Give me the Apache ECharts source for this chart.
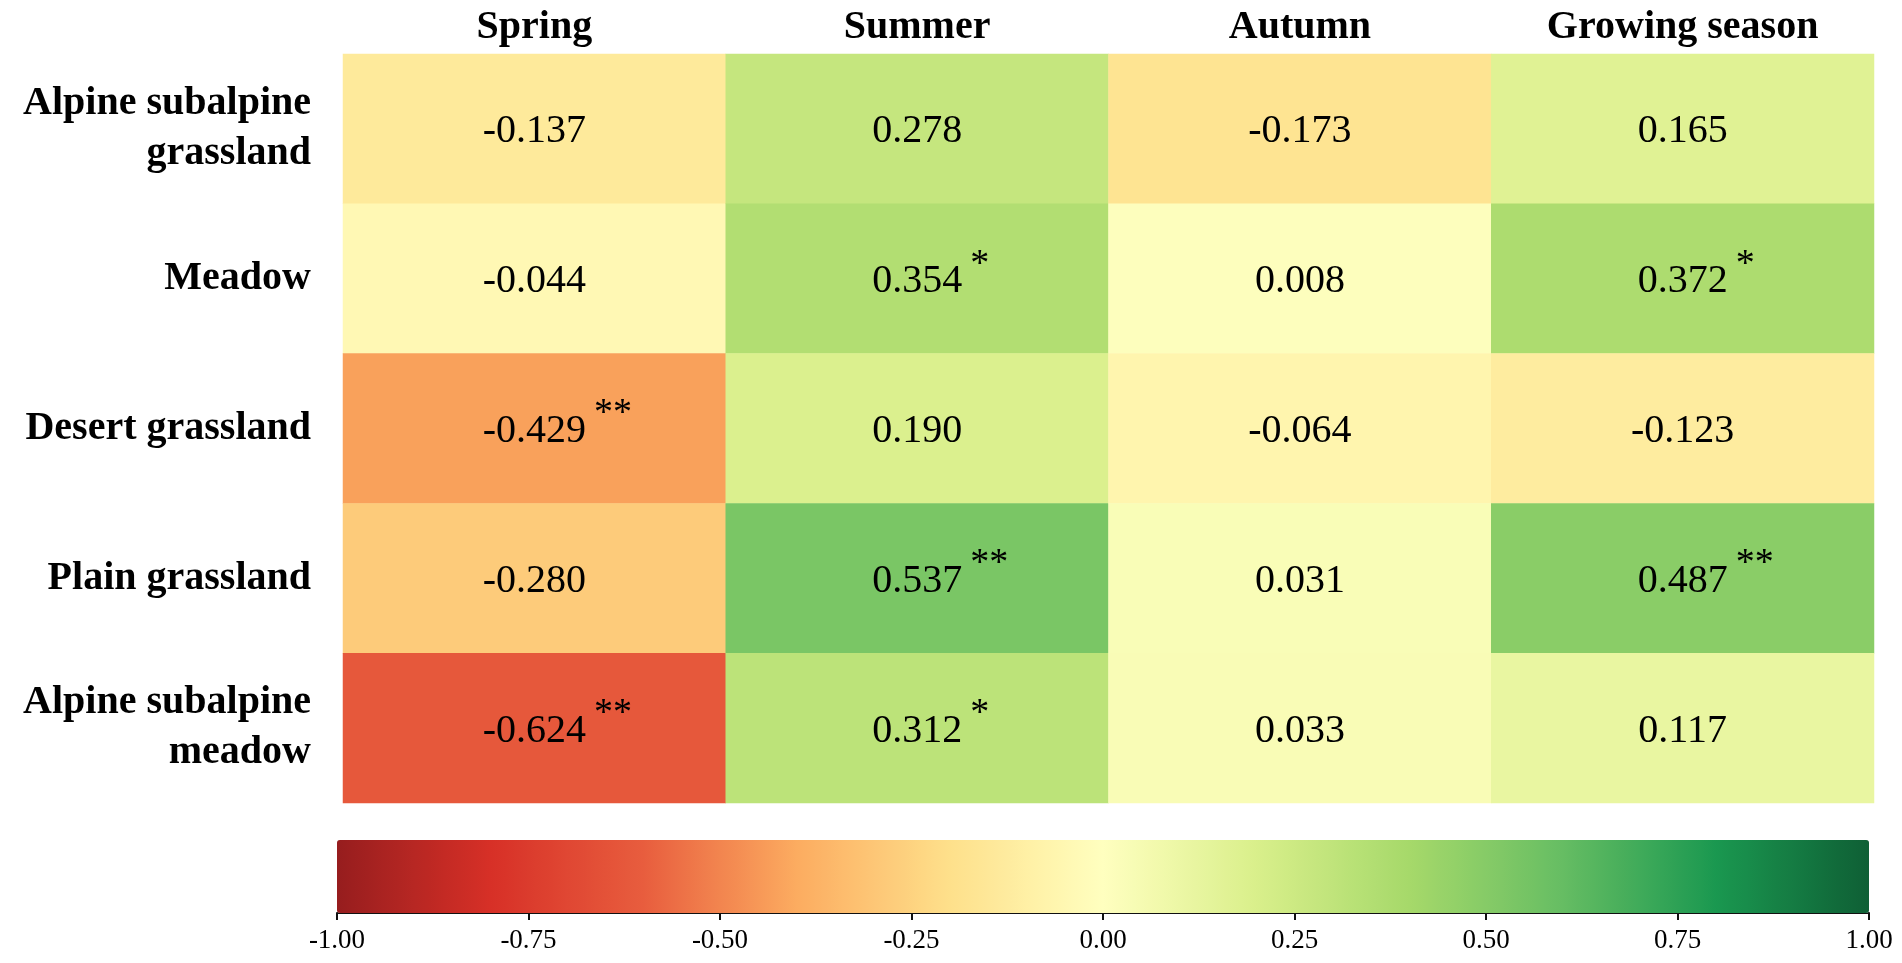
<!DOCTYPE html>
<html>
<head>
<meta charset="utf-8">
<title>Seasonal correlation heatmap</title>
<script src="https://cdn.jsdelivr.net/npm/echarts@6/dist/echarts.min.js"></script>
<style>
  html, body { margin: 0; padding: 0; background: #fff; }
  #chart { width: 1902px; height: 963px; }
</style>
</head>
<body>
<div id="chart"></div>
<script>
// columns / rows
const seasons = ['Spring', 'Summer', 'Autumn', 'Growing season'];
const grassTypes = [
  'Alpine subalpine\ngrassland',
  'Meadow',
  'Desert grassland',
  'Plain grassland',
  'Alpine subalpine\nmeadow'
];

// correlation coefficients, one array per season (rows in grassTypes order)
const spring  = [-0.137, -0.044, -0.429, -0.280, -0.624];
const summer  = [ 0.278,  0.354,  0.190,  0.537,  0.312];
const autumn  = [-0.173,  0.008, -0.064,  0.031,  0.033];
const growing = [ 0.165,  0.372, -0.123,  0.487,  0.117];

// significance marks
const springSig  = ['', '', '**', '', '**'];
const summerSig  = ['', '*', '', '**', '*'];
const autumnSig  = ['', '', '', '', ''];
const growingSig = ['', '*', '', '**', ''];

// colour ramp (red - yellow - green)
const rampColors = ['#961d1e', '#d73027', '#e85d3e', '#fcac60', '#fee08b', '#ffffbf',
                    '#d9ef8b', '#a6d96a', '#66bd63', '#1a9850', '#0f5f35'];

const serif = 'Liberation Serif';

const cols = [spring, summer, autumn, growing];
const sigs = [springSig, summerSig, autumnSig, growingSig];
const cells = [];
cols.forEach((col, i) => {
  col.forEach((v, j) => cells.push([i, j, v, sigs[i][j]]));
});

const chart = echarts.init(document.getElementById('chart'));

chart.setOption({
  backgroundColor: '#fff',
  animation: false,
  grid: [
    { left: 343, right: 28, top: 54, bottom: 160 },
    { left: 337, width: 1532, top: 840, height: 73 }
  ],
  xAxis: [
    {
      type: 'category',
      data: seasons,
      position: 'top',
      axisLine: { show: false },
      axisTick: { show: false },
      splitLine: { show: false },
      axisLabel: {
        color: '#000', fontFamily: serif, fontWeight: 'bold', fontSize: 40, margin: 6
      }
    },
    {
      gridIndex: 1,
      type: 'value',
      min: -1, max: 1, interval: 0.25,
      position: 'bottom',
      axisLine: { show: true, lineStyle: { color: '#111', width: 2 } },
      axisTick: { show: true, length: 7, lineStyle: { color: '#111', width: 2 } },
      splitLine: { show: false },
      axisLabel: {
        color: '#000', fontFamily: serif, fontSize: 27, margin: 14,
        formatter: v => v.toFixed(2)
      }
    }
  ],
  yAxis: [
    {
      type: 'category',
      data: grassTypes,
      inverse: true,
      axisLine: { show: false },
      axisTick: { show: false },
      splitLine: { show: false },
      axisLabel: {
        color: '#000', fontFamily: serif, fontWeight: 'bold', fontSize: 40,
        lineHeight: 50, margin: 32
      }
    },
    { gridIndex: 1, type: 'value', min: 0, max: 1, show: false }
  ],
  visualMap: {
    type: 'continuous',
    min: -1, max: 1,
    dimension: 2,
    seriesIndex: 0,
    orient: 'horizontal',
    left: 337, top: 840,
    padding: 0,
    itemWidth: 73,
    itemHeight: 1532,
    calculable: false,
    hoverLink: false,
    text: null,
    inRange: { color: rampColors }
  },
  series: [{
    type: 'heatmap',
    data: cells,
    itemStyle: { borderWidth: 0 },
    emphasis: { disabled: true },
    label: {
      show: true,
      offset: [0, 3],
      formatter: p => {
        const v = p.value[2].toFixed(3);
        const s = p.value[3];
        return s ? '{h|' + s + '}{v|' + v + '}{s|' + s + '}' : '{v|' + v + '}';
      },
      rich: {
        v: { fontFamily: serif, fontSize: 40, color: '#000', lineHeight: 72 },
        s: { fontFamily: serif, fontSize: 38, color: '#000', lineHeight: 20,
             verticalAlign: 'top', padding: [0, 0, 0, 8] },
        h: { fontFamily: serif, fontSize: 38, color: 'transparent', lineHeight: 20,
             verticalAlign: 'top', padding: [0, 8, 0, 0] }
      }
    }
  }]
});

window.addEventListener('resize', () => chart.resize());
</script>
</body>
</html>
